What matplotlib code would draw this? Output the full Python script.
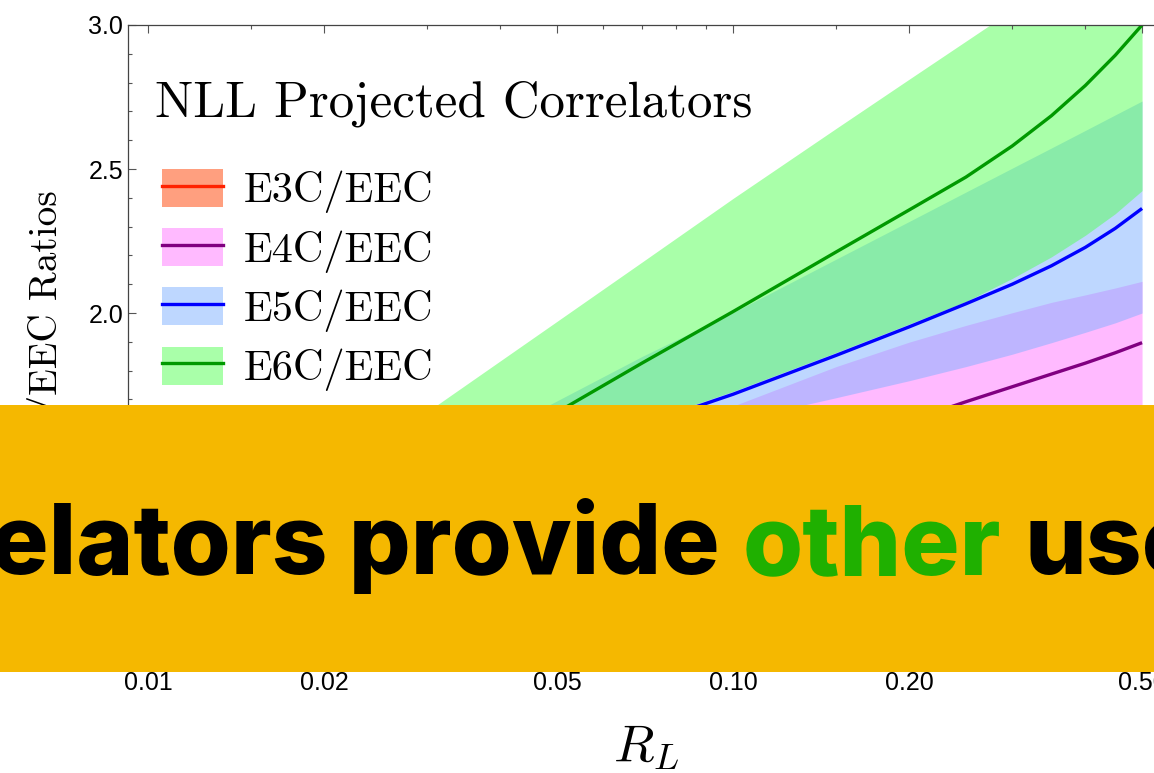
import matplotlib
matplotlib.use("Agg")
import matplotlib.pyplot as plt
from matplotlib import font_manager
from matplotlib.patches import Patch, Rectangle
from matplotlib.lines import Line2D
from matplotlib.legend_handler import HandlerTuple
from matplotlib.ticker import FixedLocator, FixedFormatter, NullFormatter, MultipleLocator

plt.rcParams['font.family'] = ['Liberation Sans', 'DejaVu Sans']
plt.rcParams['mathtext.fontset'] = 'cm'

# =================== data ===================

r_l = [0.009, 0.015, 0.02, 0.03, 0.05, 0.07, 0.1, 0.15, 0.2, 0.25, 0.3, 0.35, 0.4, 0.45, 0.5]

e3c_mid = [0.99, 1.05, 1.08, 1.13, 1.20, 1.24, 1.29, 1.35, 1.39, 1.42, 1.45, 1.47, 1.49, 1.51, 1.53]
e3c_hi = [1.03, 1.10, 1.13, 1.19, 1.27, 1.32, 1.38, 1.45, 1.50, 1.54, 1.57, 1.60, 1.62, 1.645, 1.665]
e3c_lo = [0.95, 1.00, 1.03, 1.07, 1.13, 1.17, 1.21, 1.26, 1.30, 1.33, 1.35, 1.37, 1.39, 1.41, 1.42]

e4c_mid = [0.92, 1.01, 1.06, 1.15, 1.26, 1.34, 1.43, 1.54, 1.625, 1.692, 1.744, 1.788, 1.826, 1.862, 1.897]
e4c_hi = [1.10, 1.20, 1.26, 1.36, 1.47, 1.56, 1.677, 1.814, 1.899, 1.957, 2.001, 2.037, 2.063, 2.087, 2.11]
e4c_lo = [0.80, 0.87, 0.91, 0.98, 1.08, 1.15, 1.23, 1.33, 1.40, 1.46, 1.51, 1.55, 1.585, 1.62, 1.655]

e5c_mid = [1.07, 1.20, 1.27, 1.37, 1.511, 1.611, 1.718, 1.853, 1.952, 2.032, 2.100, 2.164, 2.228, 2.294, 2.363]
e5c_hi = [1.14, 1.27, 1.34, 1.46, 1.695, 1.85, 2.002, 2.187, 2.318, 2.42, 2.503, 2.573, 2.634, 2.688, 2.736]
e5c_lo = [0.98, 1.13, 1.21, 1.32, 1.46, 1.55, 1.625, 1.706, 1.765, 1.814, 1.857, 1.897, 1.933, 1.966, 2.0]

e6c_mid = [0.95, 1.14, 1.253, 1.42, 1.655, 1.827, 2.005, 2.212, 2.358, 2.472, 2.58, 2.685, 2.79, 2.895, 3.0]
e6c_hi = [1.05, 1.27, 1.41, 1.657, 1.971, 2.178, 2.398, 2.641, 2.812, 2.944, 3.052, 3.14, 3.22, 3.29, 3.35]
e6c_lo = [0.85, 1.03, 1.13, 1.28, 1.52, 1.621, 1.728, 1.863, 1.962, 2.04, 2.12, 2.195, 2.27, 2.345, 2.425]

labels = ["E3C/EEC", "E4C/EEC", "E5C/EEC", "E6C/EEC"]
line_colors = ["#FF2200", "#800080", "#0000FF", "#009900"]
band_colors = ["#FF4101", "#FF77FF", "#7FB1FF", "#55FF55"]

xticks = [0.01, 0.02, 0.05, 0.1, 0.2, 0.5]
xtick_labels = ["0.01", "0.02", "0.05", "0.10", "0.20", "0.50"]
x_minor = [0.015, 0.03, 0.04, 0.06, 0.07, 0.08, 0.09, 0.15, 0.3, 0.4]
yticks = [1.0, 1.5, 2.0, 2.5, 3.0]


def heavy_font():
    # installed grotesk weight nearest to ExtraBold, for the banner
    for fam in ['Inter', 'Roboto', 'Lato', 'Open Sans', 'Liberation Sans']:
        cands = []
        for f in font_manager.fontManager.ttflist:
            if f.name != fam or f.style != 'normal':
                continue
            w = f.weight if isinstance(f.weight, int) else font_manager.weight_dict.get(f.weight, 400)
            if w >= 700:
                cands.append((abs(w - 800), f.fname))
        if cands:
            return font_manager.FontProperties(fname=min(cands)[1])
    return font_manager.FontProperties(family='DejaVu Sans', weight='bold')


# =================== figure ===================

W, H = 1154, 773
fig = plt.figure(figsize=(W / 100, H / 100), dpi=100)
ax = fig.add_axes([128.2 / W, (H - 664.4) / H, 1060.2 / W, 639.4 / H])

bands = [(e3c_lo, e3c_hi), (e4c_lo, e4c_hi), (e5c_lo, e5c_hi), (e6c_lo, e6c_hi)]
mids = [e3c_mid, e4c_mid, e5c_mid, e6c_mid]

for (lo, hi), c in zip(bands, band_colors):
    ax.fill_between(r_l, lo, hi, color=c, alpha=0.5, lw=0, zorder=1)
for mid, c in zip(mids, line_colors):
    ax.plot(r_l, mid, color=c, lw=2.4, zorder=2, solid_capstyle='butt')

ax.set_xscale('log')
ax.set_xlim(0.00925, 0.6)
ax.set_ylim(0.78, 3.0)

ax.xaxis.set_major_locator(FixedLocator(xticks))
ax.xaxis.set_major_formatter(FixedFormatter(xtick_labels))
ax.xaxis.set_minor_locator(FixedLocator(x_minor))
ax.xaxis.set_minor_formatter(NullFormatter())
ax.yaxis.set_major_locator(FixedLocator(yticks))
ax.yaxis.set_major_formatter(FixedFormatter([f"{v:.1f}" for v in yticks]))
ax.yaxis.set_minor_locator(MultipleLocator(0.1))

frame = '#444444'
for s in ax.spines.values():
    s.set_color(frame)
    s.set_linewidth(0.9)
ax.tick_params(which='both', direction='in', top=True, right=True,
               color='#555555', width=0.8, labelsize=18)
ax.tick_params(which='major', length=6)
ax.tick_params(which='minor', length=3)
ax.tick_params(axis='x', pad=5)
ax.tick_params(axis='y', pad=3.5)

ax.set_xlabel(r'$R_L$', fontsize=38)
ax.xaxis.set_label_coords(0.488, -0.09)
ax.set_ylabel('ENC/EEC Ratios', family='cmr10', fontsize=28.3)
ax.yaxis.set_label_coords(-0.058, 0.5)

ax.text(0.0253, 0.857, 'NLL Projected Correlators', transform=ax.transAxes,
        family='cmr10', fontsize=36.7, va='baseline', ha='left')

handles = [(Patch(facecolor=bc, alpha=0.5, lw=0), Line2D([], [], color=lc, lw=2.4))
           for bc, lc in zip(band_colors, line_colors)]
ax.legend(handles, labels, handler_map={tuple: HandlerTuple(ndivide=1)},
          loc='upper left', bbox_to_anchor=(0.0319, 0.775), frameon=False,
          prop={'family': 'cmr10', 'size': 30.5}, handlelength=1.44, handleheight=1.0,
          handletextpad=0.49, labelspacing=0.35, borderpad=0, borderaxespad=0)

# =================== banner over the plot ===================

fig.add_artist(Rectangle((0, (H - 672) / H), 1, 267 / H, transform=fig.transFigure,
                         facecolor='#F5B800', edgecolor='none', zorder=5))
fp = heavy_font()
base_y = (H - 574) / H
fig.text(720 / W, base_y, 'Correlators provide', ha='right', va='baseline',
         fontproperties=fp, fontsize=70, color='black', zorder=6)
fig.text(743 / W, base_y, 'other', ha='left', va='baseline',
         fontproperties=fp, fontsize=70, color='#1FB000', zorder=6)
fig.text(1025 / W, base_y, 'useful', ha='left', va='baseline',
         fontproperties=fp, fontsize=70, color='black', zorder=6)

fig.savefig('out.png', dpi=100)
